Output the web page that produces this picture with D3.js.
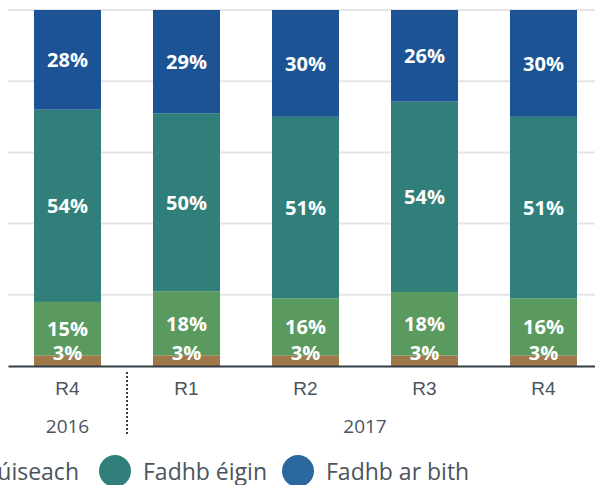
<!DOCTYPE html>
<html>
<head>
<meta charset="utf-8">
<script src="https://cdn.jsdelivr.net/npm/d3@7"></script>
<style>
  body { margin: 0; background: #fff; overflow: hidden; }
  svg { display: block; font-family: "Open Sans", sans-serif; }
  .bar-label { fill: #fff; font-weight: 700; font-size: 20px; }
  .x-axis text { fill: #4b545c; font-size: 19px; }
  .legend text { fill: #4b545c; font-size: 23px; }
</style>
</head>
<body>
<div id="vis"></div>
<script>
// data
const quarters = ["R4", "R1", "R2", "R3", "R4"];
const years = ["2016", "2017", "2017", "2017", "2017"];
const seriesNames = ["Fadhb an-tromchúiseach", "Fadhb thromchúiseach", "Fadhb éigin", "Fadhb ar bith"];
const brownVals = [3, 3, 3, 3, 3];
const greenVals = [15, 18, 16, 18, 16];
const tealVals = [54, 50, 51, 54, 51];
const blueVals = [28, 29, 30, 26, 30];
const yTicks = [0.2, 0.4, 0.6, 0.8, 1];

const colors = ["#a0784a", "#5b9a5f", "#317f7a", "#1b5394"];
const legendColors = ["#a0784a", "#5b9a5f", "#317f7a", "#2c68a0"];

const W = 595, H = 485;
const plot = { left: 8, right: 603, top: 10, bottom: 366 };

const keys = quarters.map((q, i) => years[i] + "-" + q);
const rows = keys.map((k, i) => ({
  key: k,
  s0: brownVals[i],
  s1: greenVals[i],
  s2: tealVals[i],
  s3: blueVals[i],
}));

const svg = d3.select("#vis").append("svg").attr("width", W).attr("height", H);

const x = d3.scaleBand()
  .domain(keys)
  .range([plot.left, plot.right])
  .paddingInner(0.437)
  .paddingOuter(0.2185);

const y = d3.scaleLinear().domain([0, 1]).range([plot.bottom, plot.top]);

// gridlines
svg.append("g")
  .selectAll("line")
  .data(yTicks)
  .join("line")
  .attr("x1", plot.left)
  .attr("x2", W)
  .attr("y1", (d) => y(d))
  .attr("y2", (d) => y(d))
  .attr("stroke", "#e5e5e5")
  .attr("stroke-width", 2);

const stack = d3.stack()
  .keys(["s0", "s1", "s2", "s3"])
  .offset(d3.stackOffsetExpand);
const layers = stack(rows);

const groups = svg.append("g")
  .selectAll("g")
  .data(layers)
  .join("g")
  .attr("fill", (d, i) => colors[i]);

groups.selectAll("rect")
  .data((d) => d)
  .join("rect")
  .attr("x", (d) => x(d.data.key))
  .attr("width", x.bandwidth())
  .attr("y", (d) => y(d[1]))
  .attr("height", (d) => y(d[0]) - y(d[1]));

// labels
layers.forEach((layer) => {
  svg.append("g")
    .selectAll("text")
    .data(layer)
    .join("text")
    .attr("class", "bar-label")
    .attr("text-anchor", "middle")
    .attr("dominant-baseline", "central")
    .attr("x", (d) => x(d.data.key) + x.bandwidth() / 2)
    .attr("y", (d) => Math.min((y(d[0]) + y(d[1])) / 2, plot.bottom - 14))
    .text((d) => d.data[layer.key] + "%");
});

// x axis
const xAxis = d3.axisBottom(x)
  .tickSizeInner(0)
  .tickSizeOuter(0)
  .tickPadding(16)
  .tickFormat((d, i) => quarters[i]);

const axisG = svg.append("g")
  .attr("class", "x-axis")
  .attr("transform", `translate(0,${plot.bottom})`)
  .call(xAxis);
axisG.select(".domain").attr("stroke", "#333d45").attr("stroke-width", 2);
axisG.selectAll("text").attr("font-family", null).attr("font-size", null);

// year labels
const yearGroups = d3.groups(keys, (k) => k.split("-")[0]);
svg.append("g")
  .attr("class", "x-axis")
  .selectAll("text")
  .data(yearGroups)
  .join("text")
  .attr("text-anchor", "middle")
  .attr("x", (d) => {
    const first = x(d[1][0]);
    const last = x(d[1][d[1].length - 1]) + x.bandwidth();
    return (first + last) / 2;
  })
  .attr("y", plot.bottom + 67)
  .text((d) => d[0]);

// dotted separator between years
yearGroups.slice(1).forEach((g) => {
  const sx = x(g[1][0]) - (x.step() - x.bandwidth()) / 2;
  svg.append("line")
    .attr("x1", sx)
    .attr("x2", sx)
    .attr("y1", plot.bottom + 6)
    .attr("y2", plot.bottom + 69)
    .attr("stroke", "#333d45")
    .attr("stroke-width", 2)
    .attr("stroke-dasharray", "2,2");
});

// legend
const legend = svg.append("g").attr("class", "legend");
const r = 16;
const items = seriesNames.map((name, i) => {
  const g = legend.append("g");
  g.append("circle").attr("r", r).attr("fill", legendColors[i]);
  const t = g.append("text")
    .attr("x", r + 12)
    .attr("dominant-baseline", "central")
    .text(name);
  return { g, w: t.node().getComputedTextLength() };
});
const anchorIdx = 2;
const cx = [];
cx[anchorIdx] = 115;
for (let i = anchorIdx + 1; i < items.length; i++) {
  cx[i] = cx[i - 1] + r + 12 + items[i - 1].w + 15 + r;
}
for (let i = anchorIdx - 1; i >= 0; i--) {
  cx[i] = cx[i + 1] - r - 20 - items[i].w - 12 - r;
}
items.forEach((it, i) => it.g.attr("transform", `translate(${cx[i]},471)`));
</script>
</body>
</html>
